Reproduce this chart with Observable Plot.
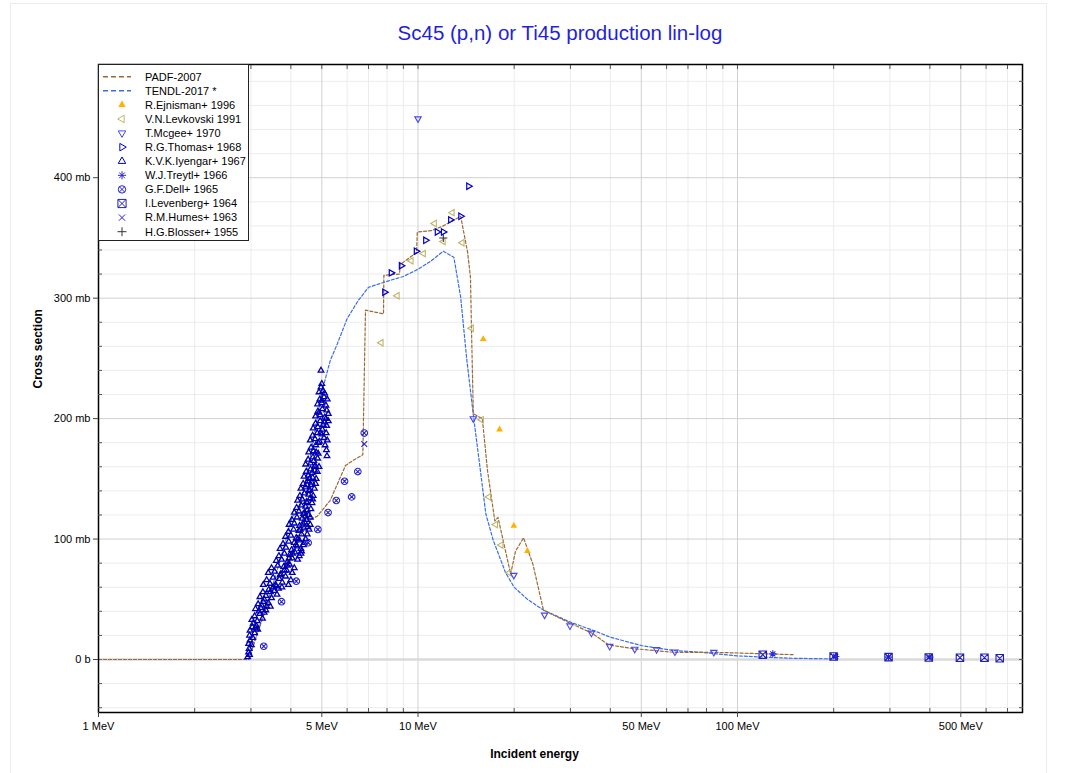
<!DOCTYPE html>
<html><head><meta charset="utf-8">
<script src="https://cdn.jsdelivr.net/npm/d3@7"></script>
<script src="https://cdn.jsdelivr.net/npm/@observablehq/plot@0.6"></script>
<style>
html,body{margin:0;padding:0;background:#fff;width:1071px;height:773px;overflow:hidden;font-family:Arial,"Liberation Sans",sans-serif;}
#card{position:absolute;left:10px;top:3px;width:1035px;height:790px;border:1px solid #ececec;}
#title{position:absolute;left:0;top:21px;width:1120px;text-align:center;font-size:20.5px;color:#1f1fdc;line-height:normal;}
#chart{position:absolute;left:0;top:50px;}
#legend{position:absolute;left:98px;top:64px;width:151px;height:177px;background:#fff;border:1px solid #222;box-sizing:border-box;}
</style></head>
<body>
<div id="card"></div>
<div id="title">Sc45 (p,n) or Ti45 production lin-log</div>
<div id="chart"></div>
<div id="legend"></div>
<script>
// ---------------- data (E in MeV, cross section in mb) ----------------
const padf = [[1,0],[2.95,0],[3.29,38],[3.71,72],[4.14,93],[4.5,115],[4.84,119],[5.31,132],[5.93,161],[6.24,165],[6.72,170],[6.85,290],[7.8,287],[7.82,319],[8.75,320],[8.8,328],[9.9,338],[9.95,355],[11.0,356],[12.0,360],[13.6,368],[14.3,338],[14.6,317],[14.7,276],[14.9,204],[15.9,200],[16.5,157],[17.4,115],[17.8,118],[19.5,71],[20.2,90],[21.4,101],[22.9,79],[24.7,41],[30,30],[35,22],[39.6,12],[47.4,9],[63,6],[84,6],[150,4]];
const tendl = [[1,0],[2.95,0],[3.3,38],[3.7,82],[4.04,119],[4.24,122],[4.6,168],[5.0,222],[5.31,248],[5.59,262],[6.0,283],[6.5,298],[7.0,309],[8.0,314],[9.0,318],[10,324],[11,331],[12,339],[12.95,334],[13.6,301],[14.2,250],[14.95,200],[15.8,150],[16.3,121],[17.2,99],[18.8,72],[20,60],[22,50],[24.7,41],[30,31],[35.5,24],[40,18.5],[50,11.6],[63,7.5],[77,6],[100,3],[120,2],[150,1],[200,0.5]];
const ejnisman = [[16.0,266],[18.0,191],[19.95,111],[22.0,90]];
const levkovski = [[7.67,263],[8.61,302],[9.52,331],[10.4,337],[11.26,362],[12.0,347],[12.8,371],[13.75,346],[14.7,275],[15.8,199],[16.65,135],[17.5,112],[18.2,95],[19.3,72]];
const mcgee = [[10.0,449],[14.9,200],[19.95,70],[24.9,37],[29.9,28],[34.9,22],[39.8,11],[47.7,8.6],[55.8,8.3],[63.7,6.4],[84.3,6]];
const thomas = [[7.86,305],[8.24,321],[8.86,327],[9.87,339],[10.56,348],[11.48,355],[12.0,355],[12.64,365],[13.6,368],[14.4,393]];
const iyengar = [
 [2.93,2],[2.95,6],[2.97,4],[2.96,9],
 [2.95,13],[2.98,16],[3.01,12],[3.04,18],[2.97,20],
 [2.98,24],[3.03,27],[3.08,22],[3.12,28],[3.15,25],[3.05,30],[3.1,26],
 [3.02,33],[3.08,36],[3.14,32],[3.2,38],[3.26,34],[3.3,39],[3.18,40],
 [3.1,42],[3.16,46],[3.22,43],[3.28,48],[3.34,41],[3.4,47],[3.45,44],[3.24,45],[3.36,44],
 [3.2,52],[3.27,56],[3.34,53],[3.41,58],[3.48,51],[3.55,57],[3.62,54],[3.66,59],[3.3,50],[3.45,56],
 [3.28,62],[3.36,66],[3.44,63],[3.52,68],[3.6,61],[3.68,67],[3.76,64],[3.85,69],[3.93,62],[4.0,66],[3.52,60],[3.58,62],[3.75,60],
 [3.4,72],[3.48,76],[3.56,73],[3.64,78],[3.72,71],[3.8,77],[3.88,74],[3.96,79],[4.04,72],[4.1,76],[3.7,70],[3.82,74],[3.9,78],
 [3.6,82],[3.67,86],[3.74,83],[3.82,88],[3.9,81],[3.97,87],[4.04,84],[4.12,89],[4.2,83],[3.95,84],[4.05,88],[4.25,86],[4.3,88],
 [3.7,92],[3.78,96],[3.86,93],[3.94,98],[4.02,91],[4.1,97],[4.18,94],[4.25,99],[4.3,92],[4.15,95],[4.32,90],[4.38,95],[4.4,97],
 [3.85,102],[3.93,106],[4.0,103],[4.08,108],[4.16,101],[4.24,107],[4.32,104],[4.4,109],[4.2,100],[4.28,108],[4.45,100],[4.5,104],[4.56,108],[4.52,110],
 [3.95,112],[4.03,116],[4.1,113],[4.18,118],[4.26,111],[4.34,117],[4.42,114],[4.45,119],[4.36,113],[4.6,112],[4.48,116],[4.6,118],
 [4.1,122],[4.17,126],[4.24,123],[4.31,128],[4.38,121],[4.45,127],[4.5,124],[4.42,122],[4.55,120],[4.62,125],
 [4.2,132],[4.27,136],[4.34,133],[4.41,138],[4.48,131],[4.55,137],[4.6,134],[4.5,130],[4.66,130],[4.68,133],[4.7,136],
 [4.3,142],[4.37,146],[4.44,143],[4.51,148],[4.58,141],[4.65,147],[4.56,140],[4.62,145],[4.5,145],[4.74,142],[4.78,146],
 [4.4,152],[4.47,156],[4.54,153],[4.61,158],[4.68,151],[4.75,157],[4.58,150],[4.66,155],[4.8,150],[4.84,156],
 [4.45,162],[4.53,166],[4.61,163],[4.69,168],[4.77,161],[4.85,167],[4.72,165],[4.75,160],[4.9,160],
 [4.55,172],[4.63,176],[4.71,173],[4.79,178],[4.87,171],[5.17,174],[5.19,169],[5.12,178],[4.8,172],
 [4.6,182],[4.68,186],[4.76,183],[4.84,188],[4.92,181],[5.0,187],[5.08,184],[5.16,188],[5.2,182],[4.88,180],[4.95,188],
 [4.7,192],[4.78,196],[4.86,193],[4.94,198],[5.02,191],[5.1,197],[5.18,194],[5.24,198],[5.05,195],[5.15,200],
 [4.78,202],[4.86,206],[4.94,203],[5.02,208],[5.1,201],[5.18,207],[5.24,204],[4.9,205],
 [4.85,212],[4.93,216],[5.0,213],[5.08,218],[5.15,211],[5.2,216],[5.0,215],
 [4.9,222],[4.97,226],[5.04,223],[5.1,221],[5.0,229],[4.97,240]];
const treytl = [[129,4.7],[203,2.5],[297,2],[400,2]];
const dell = [[3.29,11],[3.74,48],[4.16,65],[4.53,97],[4.86,108],[5.23,122],[5.55,132],[5.89,148],[6.2,135],[6.48,156],[6.79,188]];
const levenberg = [[120,4],[200,2.5],[297,2],[397,1.7],[497,1.5],[593,1.5],[662,1]];
const humes = [[6.79,179]];
const blosser = [[12.0,350]];

const xMajor = [1,5,10,50,100,500];
const xMinor = [2,3,4,6,7,8,9,20,30,40,60,70,80,90,200,300,400,600,700];
const yMajor = [0,100,200,300,400];
const yMinor = [-40,-20,20,40,60,80,120,140,160,180,220,240,260,280,320,340,360,380,420,440,460,480];

// ---------------- symbols ----------------
const poly = pts => ({draw(ctx, size){const r=Math.sqrt(size/Math.PI);pts.forEach(([x,y],i)=>i?ctx.lineTo(x*r,y*r):ctx.moveTo(x*r,y*r));ctx.closePath();}});
const triUp = poly([[0,-1.15],[1,0.58],[-1,0.58]]);
const triDown = poly([[0,1.15],[1,-0.58],[-1,-0.58]]);
const triRight = poly([[1.15,0],[-0.58,1],[-0.58,-1]]);
const triLeft = poly([[-1.15,0],[0.58,1],[0.58,-1]]);
const circleX = {draw(ctx,size){const r=Math.sqrt(size/Math.PI);ctx.moveTo(r,0);ctx.arc(0,0,r,0,2*Math.PI);const d=r*0.707;ctx.moveTo(-d,-d);ctx.lineTo(d,d);ctx.moveTo(-d,d);ctx.lineTo(d,-d);}};
const squareX = {draw(ctx,size){const w=Math.sqrt(size/Math.PI)*1.1;ctx.moveTo(-w,-w);ctx.lineTo(w,-w);ctx.lineTo(w,w);ctx.lineTo(-w,w);ctx.closePath();ctx.moveTo(-w,-w);ctx.lineTo(w,w);ctx.moveTo(-w,w);ctx.lineTo(w,-w);}};
const asterisk = {draw(ctx,size){const r=Math.sqrt(size/Math.PI)*1.1;const d=r*0.707;ctx.moveTo(-r,0);ctx.lineTo(r,0);ctx.moveTo(0,-r);ctx.lineTo(0,r);ctx.moveTo(-d,-d);ctx.lineTo(d,d);ctx.moveTo(-d,d);ctx.lineTo(d,-d);}};
const timesS = {draw(ctx,size){const d=Math.sqrt(size/Math.PI)*0.85;ctx.moveTo(-d,-d);ctx.lineTo(d,d);ctx.moveTo(-d,d);ctx.lineTo(d,-d);}};
const plusS = {draw(ctx,size){const r=Math.sqrt(size/Math.PI)*1.2;ctx.moveTo(-r,0);ctx.lineTo(r,0);ctx.moveTo(0,-r);ctx.lineTo(0,r);}};

const series = [
  {name:"R.Ejnisman+ 1996", data:ejnisman, sym:triUp, color:"#ffb000", filled:true, r:3.4, sw:1},
  {name:"V.N.Levkovski 1991", data:levkovski, sym:triLeft, color:"#bdb46a", r:3.2, sw:1.1},
  {name:"T.Mcgee+ 1970", data:mcgee, sym:triDown, color:"#4545f5", r:3.2, sw:1.1},
  {name:"R.G.Thomas+ 1968", data:thomas, sym:triRight, color:"#0000c8", r:3.2, sw:1.2},
  {name:"K.V.K.Iyengar+ 1967", data:iyengar, sym:triUp, color:"#0000b0", r:2.8, sw:1.3},
  {name:"W.J.Treytl+ 1966", data:treytl, sym:asterisk, color:"#2a2ae0", r:3.3, sw:1.1},
  {name:"G.F.Dell+ 1965", data:dell, sym:circleX, color:"#2424c8", r:3.3, sw:1.1},
  {name:"I.Levenberg+ 1964", data:levenberg, sym:squareX, color:"#2020b8", r:3.4, sw:1.1},
  {name:"R.M.Humes+ 1963", data:humes, sym:timesS, color:"#2424c8", r:3.4, sw:1.1},
  {name:"H.G.Blosser+ 1955", data:blosser, sym:plusS, color:"#333333", r:3.4, sw:1.1}
];

const dotMarks = series.map(s => Plot.dot(s.data, {
  x: d => d[0], y: d => d[1], symbol: s.sym, r: s.r,
  fill: s.filled ? s.color : "none", stroke: s.filled ? "none" : s.color, strokeWidth: s.sw
}));

const chart = Plot.plot({
  width: 1071, height: 723,
  marginLeft: 98, marginRight: 49, marginTop: 14, marginBottom: 61,
  x: {type: "log", domain: [1, 780], label: null},
  y: {domain: [-44, 494], label: null},
  style: {fontFamily: "Arial, 'Liberation Sans', sans-serif", fontSize: "11px", background: "transparent", overflow: "visible"},
  marks: [
    Plot.ruleX(xMinor, {x: d => d, stroke: "#ececec"}),
    Plot.ruleY(yMinor, {y: d => d, stroke: "#ececec"}),
    Plot.ruleX(xMajor, {x: d => d, stroke: "#d0d0d0"}),
    Plot.ruleY(yMajor.filter(d => d !== 0), {y: d => d, stroke: "#d0d0d0"}),
    Plot.ruleY([0], {y: d => d, stroke: "#dadada", strokeWidth: 2.5}),
    Plot.line(tendl, {x: d => d[0], y: d => d[1], stroke: "#3b6ee6", strokeWidth: 1.2, strokeDasharray: "3,2"}),
    Plot.line(padf, {x: d => d[0], y: d => d[1], stroke: "#9c6a36", strokeWidth: 1.2, strokeDasharray: "3,2"}),
    ...dotMarks,
    Plot.frame({stroke: "#000", strokeWidth: 1.5}),
    Plot.ruleX(xMajor, {x: d => d, y1: -44, y2: -44, insetBottom: -5, stroke: "#444"}),
    Plot.text(xMajor, {x: d => d, frameAnchor: "bottom", dy: 17, text: d => d + " MeV", fill: "#000"}),
    Plot.axisX(xMinor, {anchor: "bottom", tickSize: -4, tickFormat: () => "", stroke: "#555"}),
    Plot.axisX(xMajor.concat(xMinor), {anchor: "top", tickSize: -4, tickFormat: () => "", stroke: "#555"}),
    Plot.axisY(yMajor, {anchor: "left", tickSize: 5, tickPadding: 3, tickFormat: d => d === 0 ? "0 b" : d + " mb", stroke: "#444"}),
    Plot.axisY(yMinor, {anchor: "left", tickSize: -4, tickFormat: () => "", stroke: "#555"}),
    Plot.axisY(yMinor.concat(yMajor), {anchor: "right", tickSize: -4, tickFormat: () => "", stroke: "#555"}),
    Plot.text(["Cross section"], {frameAnchor: "left", dx: -60, rotate: -90, fontWeight: "bold", fontSize: 12, fill: "#000"}),
    Plot.text(["Incident energy"], {frameAnchor: "bottom", dy: 45, dx: -26, fontWeight: "bold", fontSize: 12, fill: "#000"})
  ]
});
document.getElementById("chart").appendChild(chart);

// ---------------- legend ----------------
const leg = d3.select("#legend").append("svg").attr("width", 151).attr("height", 177)
  .style("font-family", "Arial, 'Liberation Sans', sans-serif").style("font-size", "11px");
const rowY = i => 11.7 + i * 14.09;
[["PADF-2007", "#9c6a36"], ["TENDL-2017 *", "#3b6ee6"]].forEach(([t, c], i) => {
  leg.append("line").attr("x1", 4).attr("x2", 32).attr("y1", rowY(i)).attr("y2", rowY(i))
    .attr("stroke", c).attr("stroke-width", 1.5).attr("stroke-dasharray", "5,3");
  leg.append("text").attr("x", 46).attr("y", rowY(i)).attr("dy", "0.35em").text(t);
});
series.forEach((s, j) => {
  const i = j + 2;
  leg.append("path").attr("transform", `translate(23,${rowY(i)})`)
    .attr("d", d3.symbol(s.sym, Math.PI * 3.4 * 3.4 * 1.2)())
    .attr("fill", s.filled ? s.color : "none").attr("stroke", s.filled ? "none" : s.color).attr("stroke-width", 1);
  leg.append("text").attr("x", 46).attr("y", rowY(i)).attr("dy", "0.35em").text(s.name);
});
</script>
</body></html>
